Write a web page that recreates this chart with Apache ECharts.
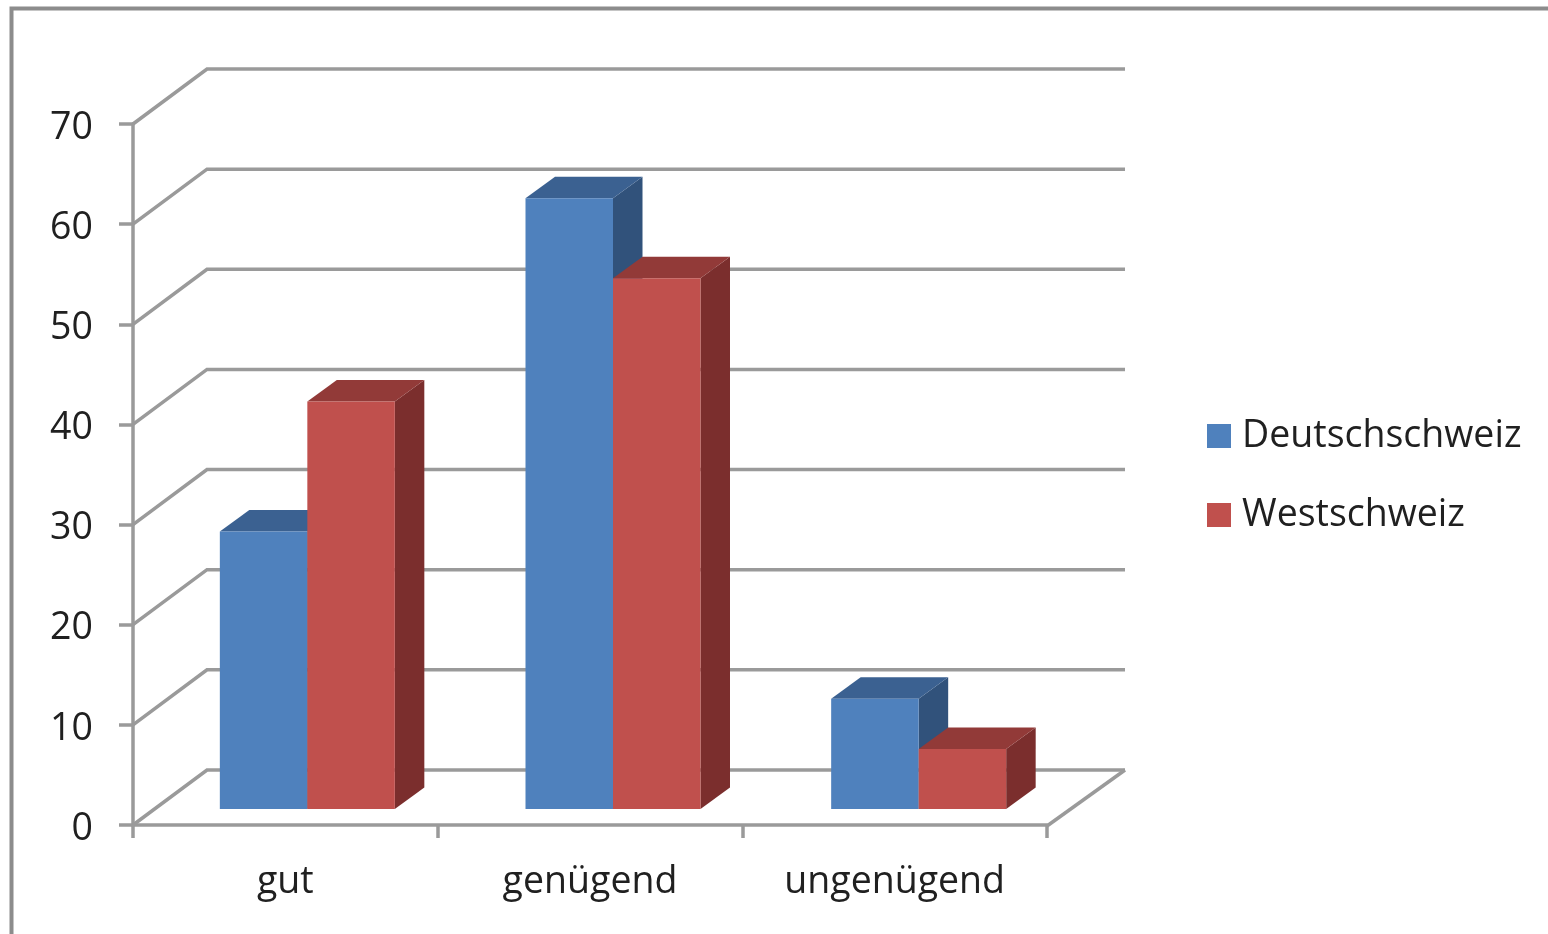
<!DOCTYPE html>
<html>
<head>
<meta charset="utf-8">
<style>html,body{margin:0;padding:0;background:#fff}#chart{width:1548px;height:934px}</style>
<script src="https://cdn.jsdelivr.net/npm/echarts@6/dist/echarts.min.js"></script>
</head>
<body>
<div id="chart"></div>
<script>
// Ratings by language region, in percent
const categories = ['gut', 'genügend', 'ungenügend'];
const deutschschweiz = [27.7, 61, 11];
const westschweiz = [40.7, 53, 6];
const gridValues = [0, 10, 20, 30, 40, 50, 60, 70];

const GRID_COLOR = '#9a9a9a';
const FONT = '"Open Sans", Lato, sans-serif';
const TEXT = '#202020';
const FONT_SIZE = 37.5;

// Projection of the chart box: the back wall sits up and to the right of the front
const WALL_DX = 74, WALL_DY = -55, WALL_RIGHT_DX = 78;
// Bars stand part-way into the floor and have a fixed visible depth
const BAR_LIFT = 16, BAR_DX = 29.5, BAR_DY = -21.5;
const BAR_WIDTH = 87.5, PAIR_SHIFT = 22, BAND_DRIFT = 1;

function wallLines(params, api) {
  const box = params.coordSys;
  const y = api.coord([0, api.value(1)])[1];
  const shape = {points: [
    [box.x, y],
    [box.x + WALL_DX, y + WALL_DY],
    [box.x + box.width + WALL_RIGHT_DX, y + WALL_DY]
  ]};
  const children = [{type: 'polyline', shape, style: {stroke: GRID_COLOR, lineWidth: 3.5, fill: null}}];
  if (api.value(1) === 0) {
    // right edge of the floor
    children.push({type: 'line', shape: {
      x1: box.x + box.width, y1: y + 1,
      x2: box.x + box.width + WALL_RIGHT_DX, y2: y + WALL_DY
    }, style: {stroke: GRID_COLOR, lineWidth: 3.5}});
  }
  return {type: 'group', children};
}

function barRenderer(slot, front, top, side) {
  return function (params, api) {
    const cat = api.value(0);
    const centre = api.coord([cat, 0]);
    const topY = api.coord([cat, api.value(1)])[1] - BAR_LIFT;
    const baseY = centre[1] - BAR_LIFT;
    const x0 = centre[0] + PAIR_SHIFT + cat * BAND_DRIFT + (slot - 1) * BAR_WIDTH;
    const x1 = x0 + BAR_WIDTH;
    return {type: 'group', children: [
      {type: 'polygon', shape: {points: [[x1, topY], [x1 + BAR_DX, topY + BAR_DY], [x1 + BAR_DX, baseY + BAR_DY], [x1, baseY]]}, style: {fill: side}},
      {type: 'polygon', shape: {points: [[x0, topY], [x0 + BAR_DX, topY + BAR_DY], [x1 + BAR_DX, topY + BAR_DY], [x1, topY]]}, style: {fill: top}},
      {type: 'rect', shape: {x: x0, y: topY, width: BAR_WIDTH, height: baseY - topY}, style: {fill: front}}
    ]};
  };
}

const chart = echarts.init(document.getElementById('chart'), null, {renderer: 'canvas'});
chart.setOption({
  animation: false,
  backgroundColor: '#ffffff',
  grid: {left: 133, right: 501, top: 124, bottom: 109, containLabel: false},
  legend: {
    left: 1202, top: 412, orient: 'vertical', icon: 'rect',
    itemWidth: 24, itemHeight: 24, itemGap: 41,
    data: ['Deutschschweiz', 'Westschweiz'],
    textStyle: {fontFamily: FONT, fontSize: FONT_SIZE, color: TEXT, padding: [0, 0, 0, 6]}
  },
  xAxis: {
    type: 'category', data: categories,
    axisLine: {lineStyle: {color: GRID_COLOR, width: 3.5}},
    axisTick: {show: true, length: 13, alignWithLabel: false, lineStyle: {color: GRID_COLOR, width: 3.5}},
    axisLabel: {fontFamily: FONT, fontSize: FONT_SIZE, color: TEXT, margin: 38},
    splitLine: {show: false}
  },
  yAxis: {
    type: 'value', min: 0, max: 70, interval: 10,
    axisLine: {show: true, lineStyle: {color: GRID_COLOR, width: 3.5}},
    axisTick: {show: true, length: 14, lineStyle: {color: GRID_COLOR, width: 3.5}},
    axisLabel: {
      formatter: '{v|{value}}', margin: 40,
      rich: {v: {fontFamily: FONT, fontSize: FONT_SIZE, color: TEXT, padding: [8, 0, 0, 0]}}
    },
    splitLine: {show: false}
  },
  graphic: [
    // outer border of the chart area
    {type: 'polyline', silent: true, shape: {points: [[11.5, 934], [11.5, 8.5], [1548, 8.5]]},
     style: {stroke: '#8c8c8c', lineWidth: 4, fill: null}}
  ],
  series: [
    {type: 'custom', silent: true, clip: false, z: 1, renderItem: wallLines,
     encode: {x: 0, y: 1}, data: gridValues.map(v => [0, v])},
    {type: 'custom', name: 'Deutschschweiz', clip: false, z: 2,
     itemStyle: {color: '#4f81bd'},
     renderItem: barRenderer(0, '#4f81bd', '#3b6191', '#31527b'),
     encode: {x: 0, y: 1}, data: deutschschweiz.map((v, i) => [i, v])},
    {type: 'custom', name: 'Westschweiz', clip: false, z: 3,
     itemStyle: {color: '#c0504d'},
     renderItem: barRenderer(1, '#c0504d', '#923a38', '#7b2e2d'),
     encode: {x: 0, y: 1}, data: westschweiz.map((v, i) => [i, v])}
  ]
});
</script>
</body>
</html>
